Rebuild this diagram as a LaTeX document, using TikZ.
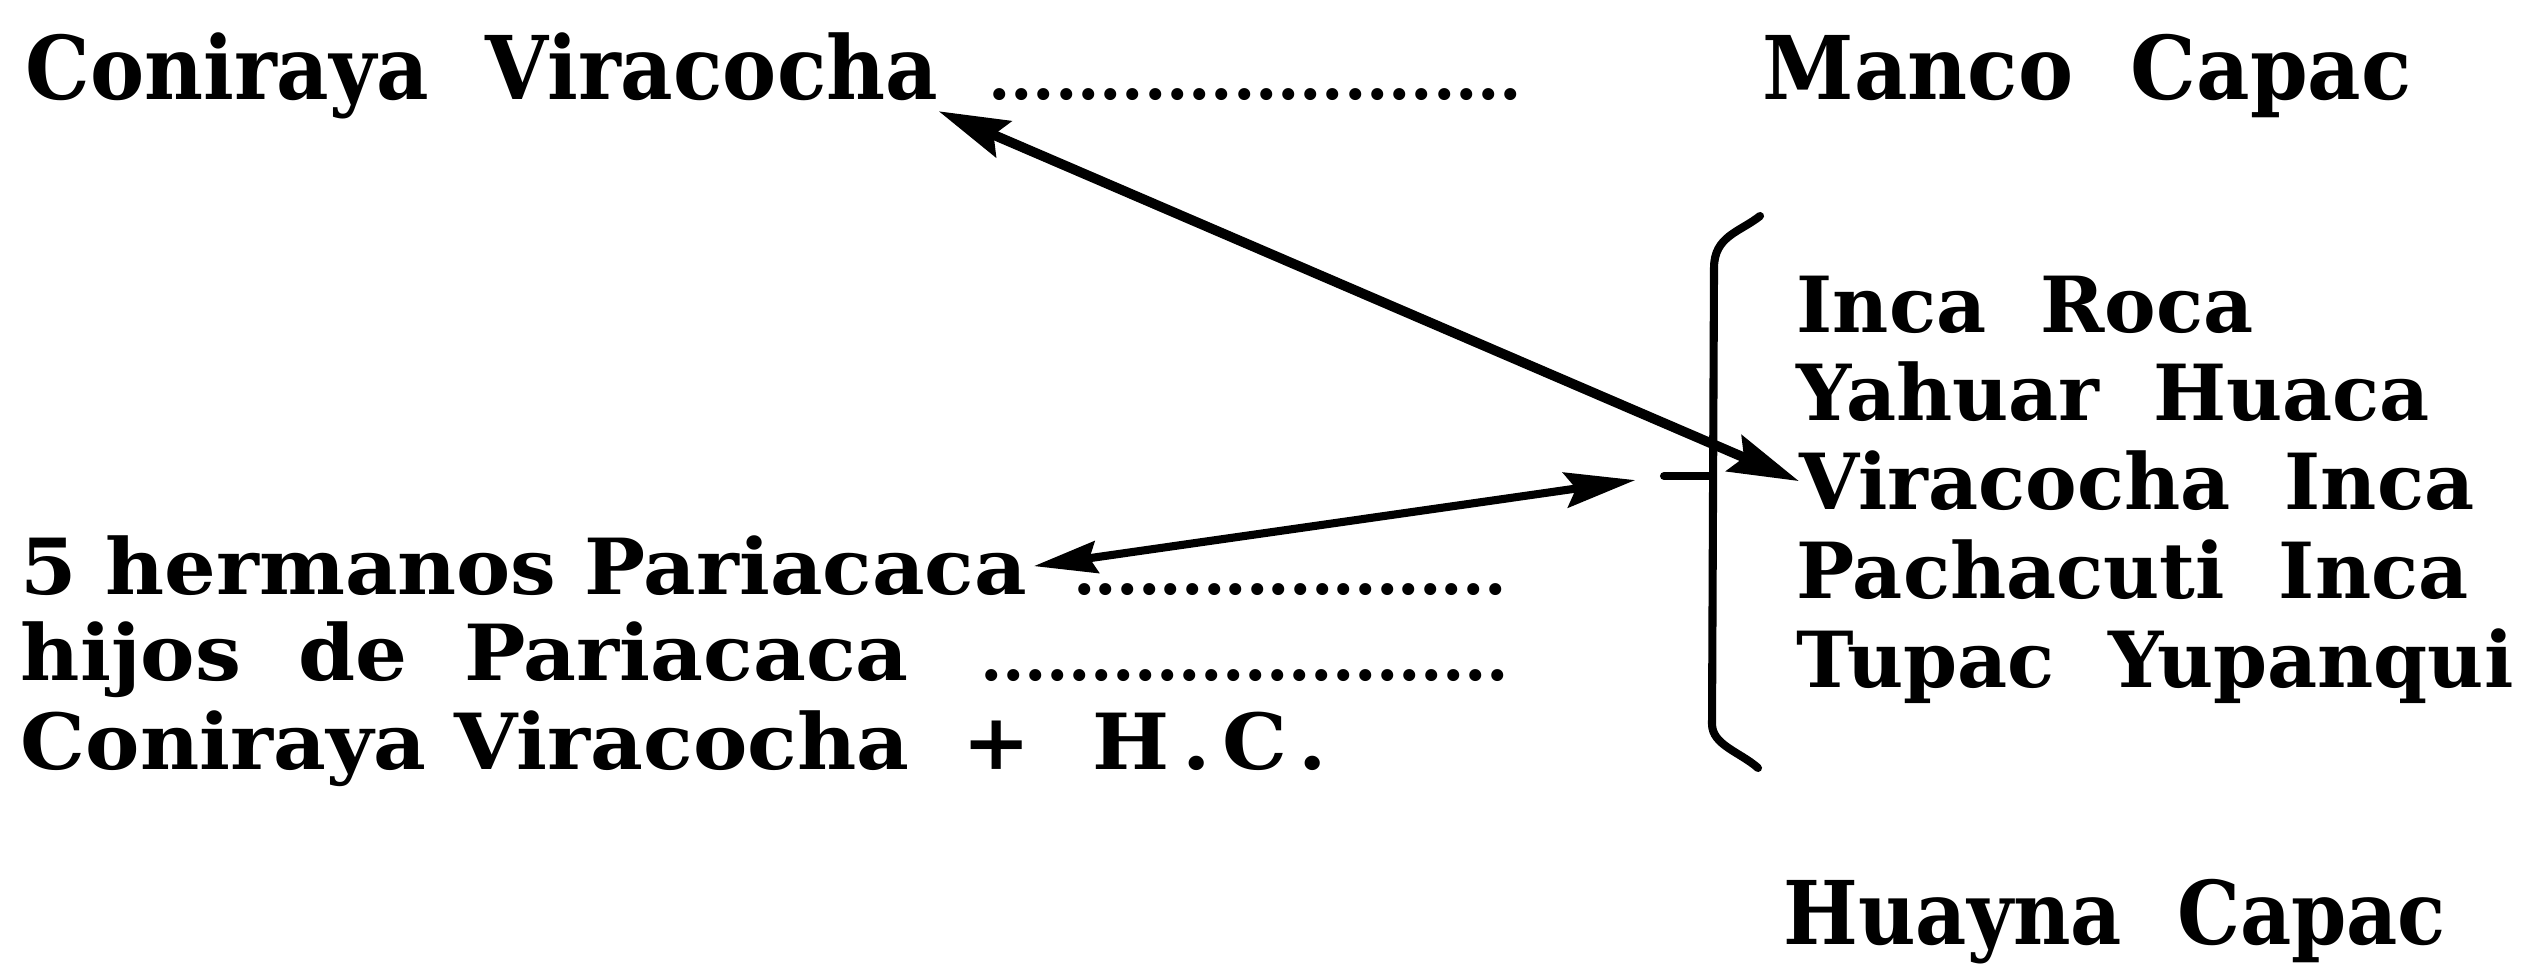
\documentclass[tikz,border=0pt]{standalone}
\usepackage{fontspec}
\setmainfont{DejaVu Serif}
\newfontfamily\dotfont{Liberation Serif}
\usetikzlibrary{arrows.meta,calc}
\newcommand\dotrow[2]{\foreach \k in {1,...,#1}{\hbox to #2{\hss.\hss}}}
\begin{document}
\begin{tikzpicture}[x=0.01cm,y=-0.01cm,
  lbl/.style={inner sep=0pt,anchor=base west,font=\bfseries\fontsize{22}{26}\selectfont},
  big/.style={lbl,font=\bfseries\fontsize{25}{30}\selectfont},
  squeeze/.style={xscale=#1,transform shape},
  lead/.style={inner sep=0pt,anchor=base west,font=\dotfont\bfseries\fontsize{21}{23}\selectfont},
  link/.style={line width=2.8pt,{Stealth[length=20pt,width=11pt,inset=3pt]}-{Stealth[length=20pt,width=11pt,inset=3pt]}},
  linkb/.style={line width=2.3pt,{Stealth[length=18pt,width=9pt,inset=2pt]}-{Stealth[length=20pt,width=10pt,inset=3pt]}},
  bracestroke/.style={line width=2.3pt,line cap=round,line join=round}]
\useasboundingbox (0,0) rectangle (2546,965);
% top row
\node[big,squeeze=0.923] (ct) at (25,100) {Coniraya\ \ Viracocha};
\node[lead] (d1) at (988,100) {\dotrow{24}{6.32pt}};
\node[big,squeeze=0.94] (mc) at (1762,100) {Manco\ \ Capac};
% right list
\node[lbl] (ir) at (1796,333) {Inca\ \ Roca};
\node[lbl] (yh) at (1796,421) {Yahuar\ \ Huaca};
\node[lbl] (vi) at (1799,510) {Viracocha\ \ Inca};
\node[lbl] (pi) at (1796,599) {Pachacuti\ \ Inca};
\node[lbl] (ty) at (1796,688) {Tupac\ \ Yupanqui};
% left list
\node[lbl,squeeze=1.05] (h5) at (20,595) {5 hermanos Pariacaca};
\node[lead] (d2) at (1073,595) {\dotrow{20}{6.15pt}};
\node[lbl,squeeze=1.056] (hp) at (20,681) {hijos\ \ de\ \ Pariacaca};
\node[lead] (d3) at (980,681) {\dotrow{24}{6.26pt}};
\node[lbl,squeeze=1.054] (cv) at (20,770) {Coniraya Viracocha \hspace{6.7pt}+ \hspace{9pt}H\hspace{3.5pt}.\hspace{3.2pt}C\hspace{2.8pt}.};
% bottom
\node[big,squeeze=0.9] (hc) at (1783,945) {Huayna\ \ Capac};
% brace
\draw[bracestroke] (1760,216) .. controls (1740,232) and (1714,236) .. (1714,268) -- (1712,724) .. controls (1712,745) and (1740,752) .. (1758,768);
\coordinate (bt) at (1664,476);
\draw[bracestroke] (bt) -- (1712,476);
% connectors
\draw[link] ([shift={(0,-9)}]ct.south east) -- (vi.west);
\draw[linkb,shorten >=0.29cm] ([shift={(6,0)}]h5.east) -- (bt);
\end{tikzpicture}
\end{document}
